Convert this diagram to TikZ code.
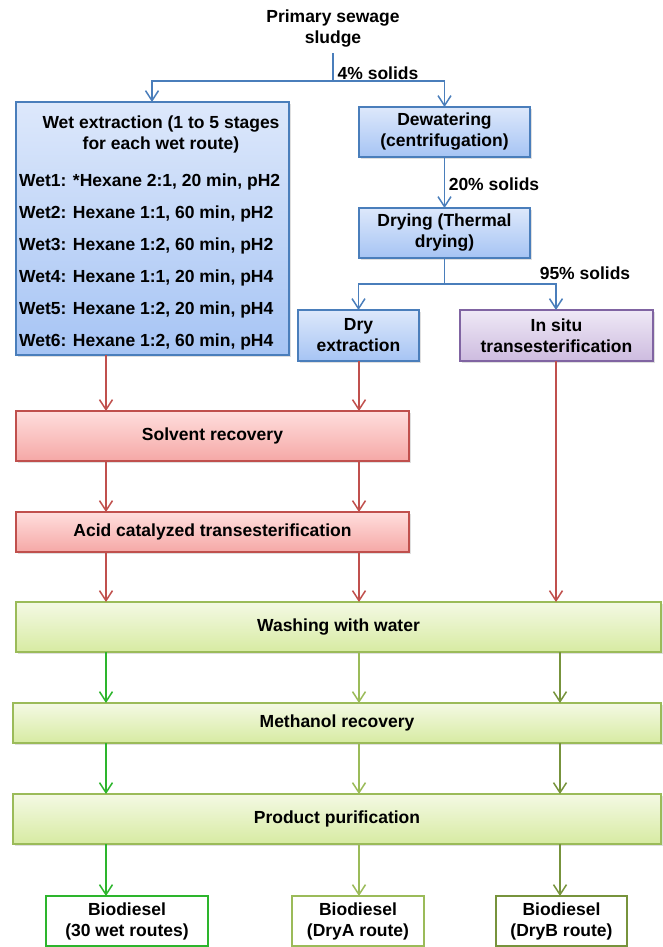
\documentclass[tikz,border=0pt]{standalone}
\usepackage{fontspec}
\setmainfont{Liberation Sans}
\usetikzlibrary{arrows.meta,shadows}
\definecolor{bluebd}{HTML}{4A7EBB}
\definecolor{bluetop}{HTML}{DDE8FB}
\definecolor{bluebot}{HTML}{A6C4F4}
\definecolor{redbd}{HTML}{C0504D}
\definecolor{redtop}{HTML}{FFDEDD}
\definecolor{redbot}{HTML}{F5A8A6}
\definecolor{grnbd}{HTML}{9BBB59}
\definecolor{grntop}{HTML}{F4F9E4}
\definecolor{grnbot}{HTML}{D7EBA2}
\definecolor{purbd}{HTML}{8064A2}
\definecolor{purtop}{HTML}{EFE9F6}
\definecolor{purbot}{HTML}{CDBBDF}
\definecolor{brightgrn}{HTML}{2DB52D}
\definecolor{olive}{HTML}{9BBB59}
\definecolor{darkolive}{HTML}{77933C}
\begin{document}
\begin{tikzpicture}[x=1pt,y=-1pt,
  lbl/.style={font=\bfseries\fontsize{17.5}{21}\selectfont, align=center, inner sep=0pt},
  boxbase/.style={lbl, draw, line width=1.5pt, outer sep=0pt, drop shadow={shadow xshift=1.5pt, shadow yshift=-2pt, opacity=0.25}},
  bluebox/.style={boxbase, draw=bluebd, top color=bluetop, bottom color=bluebot},
  redbox/.style={boxbase, draw=redbd, top color=redtop, bottom color=redbot},
  grnbox/.style={boxbase, draw=grnbd, top color=grntop, bottom color=grnbot},
  purbox/.style={boxbase, draw=purbd, top color=purtop, bottom color=purbot},
  biobox/.style={lbl, draw, line width=1.5pt, outer sep=0pt, fill=white, minimum width=#1},
  arr/.style={line width=1.5pt, -{Straight Barb[length=10pt,width=13pt,line width=1.5pt]}},
  ln/.style={line width=1.5pt}
]
\useasboundingbox (0,0) rectangle (662,947);

% columns
\coordinate (c1) at (106,0);
\coordinate (c2) at (359,0);
\coordinate (c3) at (556,0);
\coordinate (c4) at (560,0);

\node[lbl] (sludge) at (333,28.5) {Primary sewage\\sludge};

\node[bluebox, minimum width=273pt, minimum height=253pt] (wet) at (152.5,228.5) {};
\node[lbl] (wettitle) at (161,134.5) {Wet extraction (1 to 5 stages\\for each wet route)};
\node[lbl, anchor=base west] (w1) at (19,186.3) {Wet1: *Hexane 2:1, 20 min, pH2};
\node[lbl, anchor=base west] (w2) at (19,218.3) {Wet2: Hexane 1:1, 60 min, pH2};
\node[lbl, anchor=base west] (w3) at (19,250.3) {Wet3: Hexane 1:2, 60 min, pH2};
\node[lbl, anchor=base west] (w4) at (19,282.3) {Wet4: Hexane 1:1, 20 min, pH4};
\node[lbl, anchor=base west] (w5) at (19,314.3) {Wet5: Hexane 1:2, 20 min, pH4};
\node[lbl, anchor=base west] (w6) at (19,346.3) {Wet6: Hexane 1:2, 60 min, pH4};

\node[bluebox, minimum width=171pt, minimum height=50pt] (dew) at (444.5,132) {Dewatering\\(centrifugation)};
\node[bluebox, minimum width=171pt, minimum height=50pt] (drying) at (444.5,233) {Drying (Thermal\\drying)};
\node[bluebox, minimum width=121pt, minimum height=51pt] (dryext) at (358.5,335.5) {Dry\\extraction};
\node[purbox, minimum width=193pt, minimum height=51pt] (insitu) at (556.5,335.5) {In situ\\transesterification};

\node[redbox, minimum width=393pt, minimum height=50pt] (solv) at (212.5,436) {Solvent recovery};
\node[redbox, minimum width=393pt, minimum height=40pt] (acid) at (212.5,532) {Acid catalyzed transesterification};

\node[grnbox, minimum width=645pt, minimum height=50pt] (wash) at (338.5,627) {Washing with water};
\node[grnbox, minimum width=648pt, minimum height=40pt] (meth) at (337,723) {Methanol recovery};
\node[grnbox, minimum width=648pt, minimum height=50pt] (prod) at (337,819) {Product purification};

\node[biobox=162pt, draw=brightgrn, minimum height=50pt] (bio1) at (127,921) {Biodiesel\\(30 wet routes)};
\node[biobox=132pt, draw=olive, minimum height=50pt] (bio2) at (358,921) {Biodiesel\\(DryA route)};
\node[biobox=131pt, draw=darkolive, minimum height=50pt] (bio3) at (561.5,921) {Biodiesel\\(DryB route)};

% labels
\node[lbl] (s4) at (378,73) {4\% solids};
\node[lbl] (s20) at (494,184) {20\% solids};
\node[lbl] (s95) at (585,273) {95\% solids};

% blue connectors
\coordinate (split) at (333,81);
\coordinate (split2) at (444.5,284);
\draw[ln, bluebd] (sludge.south) ++(0,6) -- (split);
\draw[arr, bluebd] (split) -| (wet.north -| 152,0);
\draw[arr, bluebd] (split) -| (dew.north);
\draw[arr, bluebd] (dew.south) -- (drying.north);
\draw[ln, bluebd] (drying.south) -- (split2);
\draw[arr, bluebd] (split2) -| (dryext.north);
\draw[arr, bluebd] (split2) -| (insitu.north -| c3);

% red connectors
\draw[arr, redbd] (wet.south -| c1) -- (solv.north -| c1);
\draw[arr, redbd] (dryext.south -| c2) -- (solv.north -| c2);
\draw[arr, redbd] (solv.south -| c1) -- (acid.north -| c1);
\draw[arr, redbd] (solv.south -| c2) -- (acid.north -| c2);
\draw[arr, redbd] (acid.south -| c1) -- (wash.north -| c1);
\draw[arr, redbd] (acid.south -| c2) -- (wash.north -| c2);
\draw[arr, redbd] (insitu.south -| c3) -- (wash.north -| c3);

% green connectors
\draw[arr, brightgrn] (wash.south -| c1) -- (meth.north -| c1);
\draw[arr, olive] (wash.south -| c2) -- (meth.north -| c2);
\draw[arr, darkolive] (wash.south -| c4) -- (meth.north -| c4);
\draw[arr, brightgrn] (meth.south -| c1) -- (prod.north -| c1);
\draw[arr, olive] (meth.south -| c2) -- (prod.north -| c2);
\draw[arr, darkolive] (meth.south -| c4) -- (prod.north -| c4);
\draw[arr, brightgrn] (prod.south -| c1) -- (bio1.north -| c1);
\draw[arr, olive] (prod.south -| c2) -- (bio2.north -| c2);
\draw[arr, darkolive] (prod.south -| c4) -- (bio3.north -| c4);
\end{tikzpicture}
\end{document}
